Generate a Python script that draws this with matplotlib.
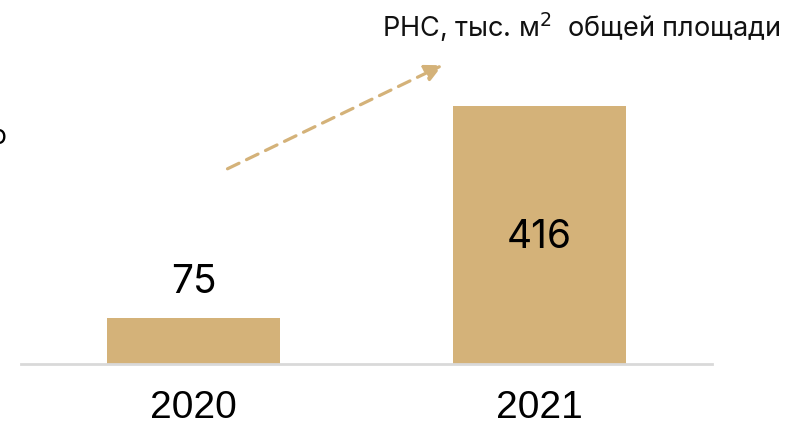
import matplotlib
matplotlib.use("Agg")
from matplotlib import pyplot as plt

# data
years = ["2020", "2021"]
values = [75, 416]
title = "РНС, тыс. м$^2$  общей площади"

bar_color = "#D4B279"
plt.rcParams['font.family'] = ['Inter', 'DejaVu Sans']

fig = plt.figure(figsize=(7.88, 4.26), dpi=100)
# axes placed so the baseline sits at ~364 px from the top
ax = fig.add_axes([21 / 788, 62 / 426, 691 / 788, 310 / 426])

xs = list(range(len(years)))
bars = ax.bar(xs, values, width=0.5, color=bar_color, zorder=2)
ax.set_xlim(-0.5, 1.5)
ax.set_ylim(0, 500)

# value labels: small bar above, tall bar inside
for x, v in zip(xs, values):
    if v < 200:
        ax.text(x, v + 26, str(v), ha='center', va='bottom', fontsize=28, color='black')
    else:
        ax.text(x, v - 212, str(v), ha='center', va='center', fontsize=28, color='black')

ax.set_xticks(xs)
ax.set_xticklabels(years, fontsize=28, family=['Liberation Sans Narrow', 'Liberation Sans'])
ax.tick_params(axis='x', length=0, pad=19)
ax.set_yticks([])
for s in ['top', 'left', 'right']:
    ax.spines[s].set_visible(False)
ax.spines['bottom'].set_color('#d9d9d9')
ax.spines['bottom'].set_linewidth(2)

fig.text(780 / 788, 1 - 27 / 426, title, ha='right', va='center', fontsize=19.5, color='#111111')

# dashed growth arrow
fig.patches.append(matplotlib.patches.FancyArrowPatch(
    (225 / 788, 1 - 170 / 426), (445 / 788, 1 - 64 / 426),
    transform=fig.transFigure, arrowstyle='-|>', mutation_scale=26,
    linestyle=(0, (4, 2.6)), linewidth=2.3, color=bar_color))

# cut-off text at left edge
fig.text(7 / 788, 1 - 137 / 426, "о", ha='right', va='center', fontsize=19, color='black')

fig.savefig('out.png', dpi=100)
